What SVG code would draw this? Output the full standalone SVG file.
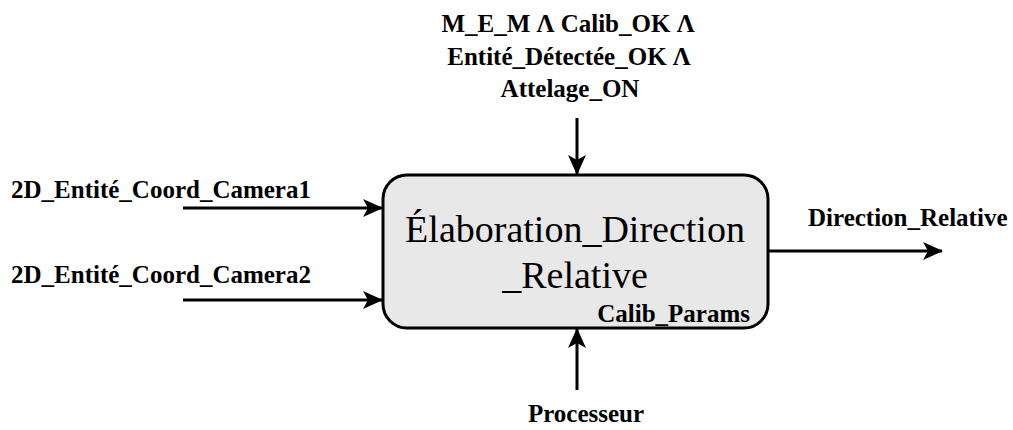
<svg xmlns="http://www.w3.org/2000/svg" width="1013" height="430" viewBox="0 0 1013 430">
<style>
text{font-family:"Liberation Serif","Times New Roman",serif;fill:#000}
.lbl{font-weight:bold;font-size:25px}
.main{font-size:38px}
.conn{stroke:#000;stroke-width:3;fill:none}
</style>
<defs>
<marker id="arr" markerWidth="20" markerHeight="18" viewBox="0 0 20 18" refX="19" refY="9" orient="auto" markerUnits="userSpaceOnUse">
<path d="M0,0 L20,9 L0,18 L5,9 Z" fill="#000"/>
</marker>
</defs>
<rect width="1013" height="430" fill="#fff"/>
<g id="connectors">
<line class="conn" x1="183" y1="208" x2="382" y2="208" marker-end="url(#arr)"/>
<line class="conn" x1="183" y1="300" x2="382" y2="300" marker-end="url(#arr)"/>
<line class="conn" x1="577" y1="118" x2="577" y2="174" marker-end="url(#arr)"/>
<line class="conn" x1="577" y1="390" x2="577" y2="329" marker-end="url(#arr)"/>
<line class="conn" x1="768" y1="251" x2="942" y2="251" marker-end="url(#arr)"/>
</g>
<g id="node-main">
<rect x="383" y="175" width="385" height="153" rx="24" ry="24" fill="#e8e8e8" stroke="#000" stroke-width="3"/>
<text class="main" x="575" y="242" text-anchor="middle">Élaboration_Direction</text>
<text class="main" x="575" y="288" text-anchor="middle">_Relative</text>
<text class="lbl" x="750" y="322" text-anchor="end">Calib_Params</text>
</g>
<g id="label-control">
<text class="lbl" x="568" y="32" text-anchor="middle">M_E_M Λ Calib_OK Λ</text>
<text class="lbl" x="569" y="65" text-anchor="middle">Entité_Détectée_OK Λ</text>
<text class="lbl" x="570" y="97" text-anchor="middle">Attelage_ON</text>
</g>
<g id="label-in1"><text class="lbl" x="11" y="198">2D_Entité_Coord_Camera1</text></g>
<g id="label-in2"><text class="lbl" x="11" y="283">2D_Entité_Coord_Camera2</text></g>
<g id="label-out"><text class="lbl" x="808" y="226">Direction_Relative</text></g>
<g id="label-mech"><text class="lbl" x="586" y="422" text-anchor="middle">Processeur</text></g>
</svg>
